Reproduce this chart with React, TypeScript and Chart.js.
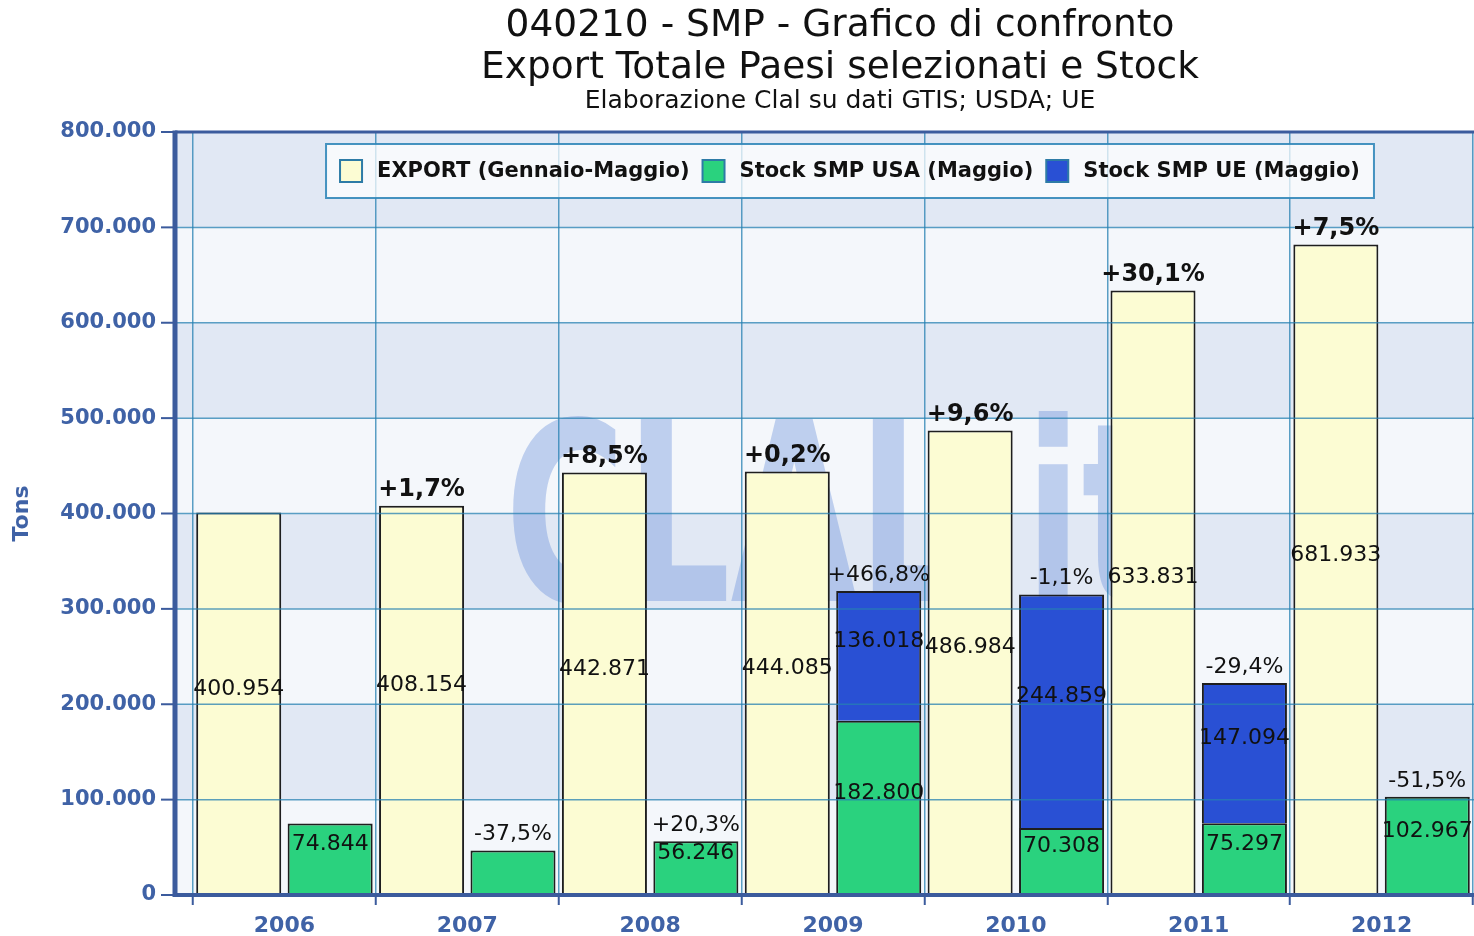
import React, { useEffect, useRef } from 'react';
import { Chart, registerables } from 'chart.js';

Chart.register(...registerables);

// ---------- data ----------
const years = ['2006', '2007', '2008', '2009', '2010', '2011', '2012'];
const exportValues = [400954, 408154, 442871, 444085, 486984, 633831, 681933];
const stockUsa = [74844, 46760, 56246, 182800, 70308, 75297, 102967];
const stockUe: (number | null)[] = [null, null, null, 136018, 244859, 147094, null];
const exportChange: (number | null)[] = [null, 1.7, 8.5, 0.2, 9.6, 30.1, 7.5];
const stockChange: (number | null)[] = [null, -37.5, 20.3, 466.8, -1.1, -29.4, -51.5];
const seriesNames = ['EXPORT (Gennaio-Maggio)', 'Stock SMP USA (Maggio)', 'Stock SMP UE (Maggio)'];
const titleLines = ['040210 - SMP - Grafico di confronto', 'Export Totale Paesi selezionati e Stock'];
const subtitleText = 'Elaborazione Clal su dati GTIS; USDA; UE';
const yAxisTitle = 'Tons';
const watermarkText = 'CLAL.it';
const yMin = 0;
const yMax = 800000;
const yStep = 100000;
const MIN_LABEL_VALUE = 50000;

// ---------- styles ----------
const FONT = '"DejaVu Sans", Verdana, sans-serif';
const AXIS_COLOR = '#3B5B9D';
const TICK_COLOR = '#3F62A6';
const GRID_COLOR = 'rgba(38,128,178,0.75)';
const BAND_A = '#F4F7FB';
const BAND_B = '#E1E8F4';
const LEFT_GAP = 18;

const fmtThousands = (v: number) => String(Math.round(v)).replace(/\B(?=(\d{3})+(?!\d))/g, '.');
const fmtPct = (v: number) => (v > 0 ? '+' : '') + v.toFixed(1).replace('.', ',') + '%';

const framePlugin = {
  id: 'frame',
  beforeDraw(chart: any) {
    const { ctx, chartArea: a, scales } = chart;
    const y = scales.y;
    const x0 = a.left - LEFT_GAP;
    ctx.save();
    const ticks = y.ticks;
    for (let k = 0; k < ticks.length - 1; k++) {
      const pb = y.getPixelForValue(ticks[k].value);
      const pt = y.getPixelForValue(ticks[k + 1].value);
      ctx.fillStyle = k % 2 === 1 ? BAND_B : BAND_A;
      ctx.fillRect(x0, pt, a.right - x0 + 300, pb - pt);
    }
    // watermark
    ctx.font = `bold 250px ${FONT}`;
    const w = ctx.measureText(watermarkText).width;
    const targetW = 655;
    ctx.translate(a.left + 312, a.top + 469);
    ctx.scale(targetW / w, 1);
    ctx.fillStyle = 'rgba(95,135,215,0.36)';
    ctx.textAlign = 'left';
    ctx.textBaseline = 'alphabetic';
    ctx.fillText(watermarkText, 0, 0);
    ctx.restore();
  },
  afterDatasetsDraw(chart: any) {
    const { ctx, chartArea: a, scales } = chart;
    const y = scales.y;
    const x0 = a.left - LEFT_GAP;
    ctx.save();
    // horizontal grid lines over bars
    ctx.strokeStyle = GRID_COLOR;
    ctx.lineWidth = 1.5;
    y.ticks.forEach((t: any) => {
      if (t.value === yMin || t.value === yMax) return;
      const py = y.getPixelForValue(t.value);
      ctx.beginPath();
      ctx.moveTo(x0, py);
      ctx.lineTo(a.right + 300, py);
      ctx.stroke();
    });
    // y tick marks
    ctx.strokeStyle = AXIS_COLOR;
    ctx.lineWidth = 2;
    y.ticks.forEach((t: any) => {
      const py = y.getPixelForValue(t.value);
      ctx.beginPath();
      ctx.moveTo(x0 - 14, py);
      ctx.lineTo(x0, py);
      ctx.stroke();
    });
    // frame
    ctx.lineWidth = 3;
    ctx.beginPath();
    ctx.moveTo(x0, a.top);
    ctx.lineTo(a.right + 300, a.top);
    ctx.stroke();
    ctx.lineWidth = 4;
    ctx.beginPath();
    ctx.moveTo(x0, a.bottom);
    ctx.lineTo(a.right + 300, a.bottom);
    ctx.stroke();
    ctx.lineWidth = 5;
    ctx.beginPath();
    ctx.moveTo(x0, a.top - 1.5);
    ctx.lineTo(x0, a.bottom + 2);
    ctx.stroke();

    // legend (inside plot area)
    const ds = chart.data.datasets;
    ctx.font = `bold 21px ${FONT}`;
    const sw = 22, gapText = 15, gapItem = 13, padX = 14;
    const widths = ds.map((d: any) => sw + gapText + ctx.measureText(d.label).width);
    const total = widths.reduce((s: number, v: number) => s + v, 0) + gapItem * (ds.length - 1);
    const cx = (a.left + a.right) / 2 + 17;
    const cy = a.top + 39;
    let lx = cx - total / 2;
    ctx.fillStyle = 'rgba(255,255,255,0.72)';
    ctx.fillRect(lx - padX, cy - 27, total + 2 * padX, 54);
    ctx.strokeStyle = 'rgba(50,135,185,0.9)';
    ctx.lineWidth = 2;
    ctx.strokeRect(lx - padX, cy - 27, total + 2 * padX, 54);
    ctx.textAlign = 'left';
    ctx.textBaseline = 'middle';
    ds.forEach((d: any, i: number) => {
      ctx.fillStyle = d.backgroundColor;
      ctx.fillRect(lx, cy - sw / 2, sw, sw);
      ctx.strokeStyle = '#2D7BA6';
      ctx.lineWidth = 2;
      ctx.strokeRect(lx, cy - sw / 2, sw, sw);
      ctx.fillStyle = '#111';
      ctx.fillText(d.label, lx + sw + gapText, cy + 1);
      lx += widths[i] + gapItem;
    });

    // value labels
    ctx.fillStyle = '#111';
    ctx.textAlign = 'center';
    ctx.textBaseline = 'middle';
    ctx.font = `22px ${FONT}`;
    [0, 1, 2].forEach((di) => {
      const meta = chart.getDatasetMeta(di);
      const data = ds[di].data;
      meta.data.forEach((el: any, i: number) => {
        const v = data[i];
        if (v == null || v < MIN_LABEL_VALUE) return;
        ctx.fillText(fmtThousands(v), el.x, (el.y + el.base) / 2 - 15);
      });
    });
    const metaE = chart.getDatasetMeta(0);
    const metaU = chart.getDatasetMeta(1);
    const metaEU = chart.getDatasetMeta(2);
    ctx.font = `bold 24px ${FONT}`;
    exportChange.forEach((c, i) => {
      if (c == null) return;
      const el = metaE.data[i];
      ctx.fillText(fmtPct(c), el.x, el.y - 16);
    });
    ctx.font = `22px ${FONT}`;
    stockChange.forEach((c, i) => {
      if (c == null) return;
      const el = metaU.data[i];
      let top = el.y;
      if (stockUe[i] != null) top = Math.min(top, metaEU.data[i].y);
      ctx.fillText(fmtPct(c), el.x, top - 16);
    });
    ctx.restore();
  },
};

export default function App() {
  const ref = useRef<HTMLCanvasElement>(null);
  useEffect(() => {
    const canvas = ref.current;
    if (!canvas) return;
    const barStyle = { borderColor: '#1E1E1E', borderWidth: 2 };
    const chart = new Chart(canvas, {
      type: 'bar',
      data: {
        labels: years,
        datasets: [
          { label: seriesNames[0], data: exportValues, stack: 'export', backgroundColor: '#FCFCD3', ...barStyle },
          { label: seriesNames[1], data: stockUsa, stack: 'stock', backgroundColor: '#2AD27E', ...barStyle },
          { label: seriesNames[2], data: stockUe, stack: 'stock', backgroundColor: '#2950D4', ...barStyle },
        ] as any,
      },
      options: {
        responsive: false,
        animation: false,
        layout: { padding: 0 },
        datasets: { bar: { categoryPercentage: 1, barPercentage: 0.93 } } as any,
        scales: {
          x: {
            stacked: true,
            offset: true,
            grid: {
              offset: true,
              color: GRID_COLOR,
              lineWidth: 1.5,
              drawTicks: true,
              tickLength: 10,
              tickColor: AXIS_COLOR,
              tickWidth: 2,
            },
            border: { display: false },
            ticks: { color: TICK_COLOR, font: { family: FONT, size: 22, weight: 'bold' }, padding: 8 },
            afterFit: (s: any) => { s.height = 41; },
          } as any,
          y: {
            stacked: true,
            min: yMin,
            max: yMax,
            ticks: {
              stepSize: yStep,
              color: TICK_COLOR,
              font: { family: FONT, size: 21, weight: 'bold' },
              padding: 3,
              callback: (v: any) => fmtThousands(Number(v)),
            },
            grid: { display: false, drawTicks: true, tickLength: 34 },
            border: { display: false },
            title: {
              display: true,
              text: yAxisTitle,
              color: TICK_COLOR,
              font: { family: FONT, size: 22, weight: 'bold' },
              padding: { top: 9, bottom: 0 },
            },
            afterFit: (s: any) => { s.width = 193; },
          } as any,
          yRight: {
            type: 'linear',
            position: 'right',
            display: true,
            min: yMin,
            max: yMax,
            grid: { display: false, drawTicks: false },
            border: { display: false },
            ticks: { display: false, padding: 0 },
            afterFit: (s: any) => { s.width = 207; },
          } as any,
        },
        plugins: {
          title: {
            display: true,
            text: titleLines,
            color: '#111',
            font: { family: FONT, size: 37.5, weight: 'normal', lineHeight: 1.12 },
            padding: { top: 5, bottom: 0 },
          },
          subtitle: {
            display: true,
            text: subtitleText,
            color: '#111',
            font: { family: FONT, size: 25, weight: 'normal', lineHeight: 1.0 },
            padding: { top: 0, bottom: 18 },
          },
          legend: { display: false },
          tooltip: { enabled: false },
        },
      } as any,
      plugins: [framePlugin],
    });
    return () => chart.destroy();
  }, []);

  return (
    <div style={{ position: 'fixed', left: 0, top: 0, width: 1474, height: 936, overflow: 'hidden', background: '#fff' }}>
      <canvas ref={ref} width={1680} height={936} style={{ display: 'block', width: 1680, height: 936 }} />
    </div>
  );
}
